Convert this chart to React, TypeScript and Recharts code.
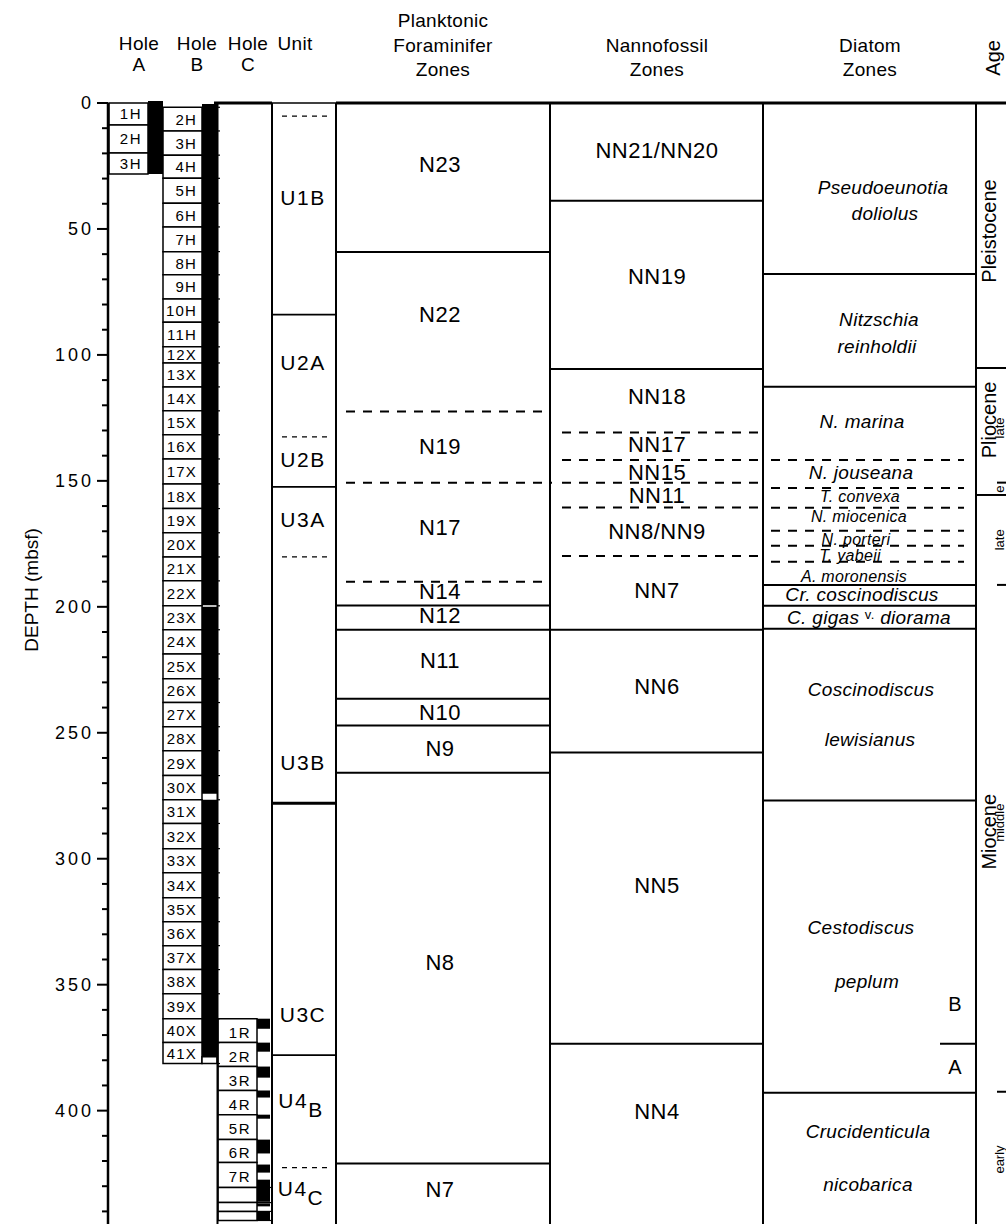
import React from 'react';
import { ComposedChart, XAxis, YAxis, ReferenceArea, ReferenceLine, ReferenceDot } from 'recharts';

const FONT = "'Liberation Sans', Arial, Helvetica, sans-serif";

// ---------------- DATA (depths in mbsf) ----------------
const depthTicks = [0, 10, 20, 30, 40, 50, 60, 70, 80, 90, 100, 110, 120, 130, 140, 150, 160, 170, 180, 190, 200, 210, 220, 230, 240, 250, 260, 270, 280, 290, 300, 310, 320, 330, 340, 350, 360, 370, 380, 390, 400, 410, 420, 430, 440];

const holeACores = ['1H', '2H', '3H'];
const holeABounds = [0, 8.7, 19.8, 28.2];
const holeARecTop = [-0.8];
const holeARecBottom = [28.2];

const holeBCores = ['2H', '3H', '4H', '5H', '6H', '7H', '8H', '9H', '10H', '11H', '12X', '13X', '14X', '15X', '16X', '17X', '18X', '19X', '20X', '21X', '22X', '23X', '24X', '25X', '26X', '27X', '28X', '29X', '30X', '31X', '32X', '33X', '34X', '35X', '36X', '37X', '38X', '39X', '40X', '41X'];
const holeBBounds = [1.7, 11.1, 20.7, 29.9, 39.8, 49.2, 59.0, 68.2, 77.8, 87.0, 96.8, 103.2, 112.7, 122.2, 131.7, 141.3, 151.2, 161.0, 170.6, 180.2, 189.7, 199.6, 209.1, 218.7, 228.6, 238.0, 247.6, 257.1, 267.0, 276.6, 286.0, 296.0, 305.6, 315.5, 325.0, 334.5, 344.0, 353.6, 363.5, 373.0, 381.3];
const holeBRecTop = [0.4, 200.0, 276.6];
const holeBRecBottom = [199.4, 274.2, 378.6];

const holeCCores = ['1R', '2R', '3R', '4R', '5R', '6R', '7R', '', '', ''];
const holeCBounds = [363.5, 373.0, 382.5, 392.0, 401.6, 411.5, 420.6, 430.5, 436.5, 440.0, 443.6];
const holeCRecTop = [363.5, 373.0, 382.5, 392.0, 401.6, 411.5, 421.4, 427.4, 436.8, 440.0];
const holeCRecBottom = [367.5, 376.6, 386.9, 394.8, 403.2, 417.0, 424.6, 436.2, 438.0, 443.6];

const unitNames = ['U1B', 'U2A', 'U2B', 'U3A', 'U3B', 'U3C', 'U4', 'U4'];
const unitSubs = ['', '', '', '', '', '', 'B', 'C'];
const unitLabelDepths = [37.7, 103.2, 141.7, 165.5, 261.9, 362.0, 395.6, 430.6];
const unitBoundaries = [5.2, 84.0, 132.5, 152.4, 180.2, 278.0, 378.0, 422.6];
const unitBoundaryDashed = [true, false, true, false, true, false, false, true];

const foramZones = ['N23', 'N22', 'N19', 'N17', 'N14', 'N12', 'N11', 'N10', 'N9', 'N8', 'N7'];
const foramLabelDepths = [24.6, 84.1, 136.5, 168.7, 194.0, 203.6, 221.4, 242.0, 256.3, 341.3, 431.3];
const foramBoundaries = [59.1, 122.5, 150.7, 190.0, 199.5, 209.1, 236.5, 247.1, 265.9, 421.0];
const foramBoundaryDashed = [false, true, true, true, false, false, false, false, false, false];

const nannoZones = ['NN21/NN20', 'NN19', 'NN18', 'NN17', 'NN15', 'NN11', 'NN8/NN9', 'NN7', 'NN6', 'NN5', 'NN4'];
const nannoLabelDepths = [18.7, 68.7, 116.7, 135.7, 146.8, 156.0, 170.2, 193.7, 231.7, 310.7, 400.4];
const nannoBoundaries = [38.8, 105.6, 130.8, 141.7, 150.7, 160.6, 179.8, 209.1, 257.8, 373.4];
const nannoBoundaryDashed = [false, false, true, true, true, true, true, false, false, false];

const diatomLabels = ['Pseudoeunotia', 'doliolus', 'Nitzschia', 'reinholdii', 'N. marina', 'N. jouseana', 'T. convexa', 'N. miocenica', 'N. porteri', 'T. yabeii', 'A. moronensis', 'Cr. coscinodiscus', 'C. gigas|v.|diorama', 'Coscinodiscus', 'lewisianus', 'Cestodiscus', 'peplum', 'Crucidenticula', 'nicobarica'];
const diatomLabelDepths = [33.7, 43.7, 86.1, 96.8, 126.6, 146.8, 156.3, 164.3, 173.4, 179.8, 188.1, 195.2, 204.0, 232.9, 252.8, 327.4, 348.8, 408.3, 429.4];
const diatomBoundaries = [67.9, 112.6, 141.7, 152.8, 160.7, 169.8, 175.8, 182.1, 191.3, 199.6, 208.7, 276.9, 392.9];
const diatomBoundaryDashed = [false, false, true, true, true, true, true, true, false, false, false, false, false];
const diatomSubzones = ['B', 'A'];
const diatomSubzoneDepths = [357.5, 382.5];
const diatomSubzoneBoundary = 373.4;

const epochNames = ['Pleistocene', 'Pliocene', 'Miocene'];
const epochLabelDepths = [50.8, 125.8, 289.3];
const epochBoundaries = [105.2, 155.6];
const subEpochNames = ['late', 'e', 'late', 'middle', 'early'];
const subEpochLabelDepths = [129.0, 153.3, 173.4, 285.7, 419.4];
const subEpochTicks = [150.7, 191.3, 392.5];

const headerTexts = ['Hole', 'A', 'Hole', 'B', 'Hole', 'C', 'Unit', 'Planktonic', 'Foraminifer', 'Zones', 'Nannofossil', 'Zones', 'Diatom', 'Zones'];

// ---------------- LAYOUT (x in column units; 0 = depth axis) ----------------
const X = {
  aBox: [1, 40], aBar: [40, 55],
  bBox: [55, 94], bBar: [94, 109], bTick: [109, 112],
  cLine: 109.5, cBox: [110, 149], cBar: [149, 162],
  unit: [164, 228], foram: [228, 442], nanno: [442, 655], diatom: [655, 868], age: [868, 898],
};
const headerX = [31, 31, 89, 89, 140, 140, 187, 335, 335, 335, 549, 549, 762, 762];
const headerY = [-23.8, -15.1, -23.8, -15.1, -23.8, -15.1, -23.8, -32.9, -23.0, -13.1, -23.0, -13.1, -23.0, -13.1];
const diatomLabelX = [775, 777, 771, 769, 754, 753, 752, 751, 748, 742, 746, 754, 761, 763, 762, 753, 759, 760, 760];
const diatomSmall = [false, false, false, false, false, false, true, true, true, true, true, false, false, false, false, false, false, false, false];

const W = 1006;
const H = 1224;
const TOP = 103;
const LEFT = 108;

// ---------------- helpers ----------------
const T = (key: string, x: number, y: number, content: React.ReactNode, style: any = {}, rotate = false) => (
  <ReferenceDot
    key={key}
    x={x}
    y={y}
    r={0}
    fill="none"
    stroke="none"
    ifOverflow="visible"
    isAnimationActive={false}
    shape={(p: any) => (
      <text
        x={p.cx}
        y={p.cy}
        textAnchor={style.anchor || 'middle'}
        dominantBaseline="central"
        fontFamily={FONT}
        fontSize={style.size || 20}
        fontStyle={style.italic ? 'italic' : 'normal'}
        letterSpacing={style.ls || 0}
        fill="#000"
        transform={rotate ? `rotate(-90 ${p.cx} ${p.cy})` : undefined}
      >
        {content}
      </text>
    )}
  />
);

const Box = (key: string, x1: number, x2: number, y1: number, y2: number, fill: string, stroke = 'none', sw = 1.5) => (
  <ReferenceArea key={key} x1={x1} x2={x2} y1={y1} y2={y2} fill={fill} fillOpacity={1} stroke={stroke} strokeWidth={sw} ifOverflow="visible" />
);

const Seg = (key: string, x1: number, x2: number, y1: number, y2: number, sw = 2, dash?: string) => (
  <ReferenceLine key={key} segment={[{ x: x1, y: y1 }, { x: x2, y: y2 }]} stroke="#000" strokeWidth={sw} strokeDasharray={dash} ifOverflow="visible" />
);

const DepthTick = (props: any) => {
  const { x, y, payload } = props;
  const v = payload.value;
  const major = v % 50 === 0;
  return (
    <g>
      <line x1={x - (major ? 11 : 6)} x2={x} y1={y} y2={y} stroke="#000" strokeWidth={2} />
      {major && (
        <text x={x - 14} y={y} textAnchor="end" dominantBaseline="central" fontFamily={FONT} fontSize={18} letterSpacing={3} fill="#000">
          {v}
        </text>
      )}
    </g>
  );
};

const DASH = '9 8';
const BOTTOM = 445;

export default function App() {
  const areas: React.ReactNode[] = [];
  const lines: React.ReactNode[] = [];
  const texts: React.ReactNode[] = [];

  // Hole A
  holeACores.forEach((c, i) => {
    areas.push(Box(`a${i}`, X.aBox[0], X.aBox[1], holeABounds[i], holeABounds[i + 1], '#fff', '#000', 1.5));
    texts.push(T(`at${i}`, X.aBox[1] - 6, (holeABounds[i] + holeABounds[i + 1]) / 2, c, { size: 15, anchor: 'end', ls: 1.5 }));
  });
  holeARecTop.forEach((t, i) => areas.push(Box(`ar${i}`, X.aBar[0], X.aBar[1], t, holeARecBottom[i], '#000')));

  // Hole B
  holeBCores.forEach((c, i) => {
    areas.push(Box(`b${i}`, X.bBox[0], X.bBox[1], holeBBounds[i], holeBBounds[i + 1], '#fff', '#000', 1.5));
    texts.push(T(`bt${i}`, X.bBox[1] - 5, (holeBBounds[i] + holeBBounds[i + 1]) / 2, c, { size: 15, anchor: 'end', ls: 1.2 }));
  });
  areas.push(Box('bbarbg', X.bBar[0], X.bBar[1], holeBBounds[holeBBounds.length - 1] - 2.7, holeBBounds[holeBBounds.length - 1], '#fff', '#000', 1.5));
  holeBRecTop.forEach((t, i) => areas.push(Box(`br${i}`, X.bBar[0], X.bBar[1], t, holeBRecBottom[i], '#000')));
  holeBBounds.forEach((d, i) => lines.push(Seg(`btk${i}`, X.bTick[0], X.bTick[1], d, d, 1.2)));

  // Hole C
  holeCCores.forEach((c, i) => {
    areas.push(Box(`c${i}`, X.cBox[0], X.cBox[1], holeCBounds[i], holeCBounds[i + 1], '#fff', '#000', 1.5));
    if (c) texts.push(T(`ct${i}`, X.cBox[1] - 6, (holeCBounds[i] + holeCBounds[i + 1]) / 2 + 0.6, c, { size: 15, anchor: 'end', ls: 1.5 }));
  });
  holeCBounds.slice(7).forEach((d, i) => lines.push(Seg(`cl${i}`, X.cBox[1], X.unit[0], d, d, 1.2)));
  holeCRecTop.forEach((t, i) => areas.push(Box(`cr${i}`, X.cBar[0], X.cBar[1], t, holeCRecBottom[i], '#000')));

  // column frame
  lines.push(Seg('top1', X.cBox[0] - 4, X.unit[0], 0, 0, 3));
  lines.push(Seg('top2', X.unit[0], X.unit[1], 0, 0, 1.5));
  lines.push(Seg('top3', X.unit[1], X.age[1], 0, 0, 3));
  [X.cLine, X.unit[0], X.unit[1], X.foram[1], X.nanno[1], X.diatom[1]].forEach((x, i) =>
    lines.push(Seg(`v${i}`, x, x, 0, BOTTOM, 2))
  );

  // Units
  unitBoundaries.forEach((d, i) => {
    if (unitBoundaryDashed[i]) lines.push(Seg(`ub${i}`, X.unit[0] + 10, X.unit[1] - 4, d, d, 1.2, '5 5'));
    else lines.push(Seg(`ub${i}`, X.unit[0], X.unit[1], d, d, i === 5 ? 3 : 1.8));
  });
  unitNames.forEach((n, i) => {
    const content = unitSubs[i] ? (
      <>
        <tspan>{n}</tspan>
        <tspan dy={9}>{unitSubs[i]}</tspan>
      </>
    ) : n;
    texts.push(T(`ut${i}`, unitSubs[i] ? 193 : 195, unitLabelDepths[i], content, { size: 21, ls: 1.5 }));
  });

  // Foram
  foramBoundaries.forEach((d, i) => {
    if (foramBoundaryDashed[i]) lines.push(Seg(`fb${i}`, X.foram[0] + 10, X.foram[1] + (i === 2 ? 2 : -2), d, d, 2, DASH));
    else lines.push(Seg(`fb${i}`, X.foram[0], X.foram[1], d, d, 2));
  });
  foramZones.forEach((z, i) => texts.push(T(`ft${i}`, 332, foramLabelDepths[i], z, { size: 22, ls: 0.5 })));

  // Nanno
  nannoBoundaries.forEach((d, i) => {
    if (nannoBoundaryDashed[i]) lines.push(Seg(`nb${i}`, X.nanno[0] + 12, X.nanno[1], d, d, 2, DASH));
    else lines.push(Seg(`nb${i}`, X.nanno[0], X.nanno[1], d, d, 2));
  });
  nannoZones.forEach((z, i) => texts.push(T(`nt${i}`, 549, nannoLabelDepths[i], z, { size: 22, ls: 0.5 })));

  // Diatom
  diatomBoundaries.forEach((d, i) => {
    if (diatomBoundaryDashed[i]) lines.push(Seg(`db${i}`, X.diatom[0] + 8, X.diatom[1] - 12, d, d, 2, DASH));
    else lines.push(Seg(`db${i}`, X.diatom[0], X.diatom[1], d, d, 2));
  });
  lines.push(Seg('dsub', X.diatom[1] - 36, X.diatom[1], diatomSubzoneBoundary, diatomSubzoneBoundary, 2));
  diatomLabels.forEach((l, i) => {
    let content: React.ReactNode = l;
    if (l.includes('|')) {
      const [a, b, c] = l.split('|');
      content = (
        <>
          <tspan>{a} </tspan>
          <tspan fontSize={13} fontStyle="normal" dy={-3}>{b}</tspan>
          <tspan dy={3}> {c}</tspan>
        </>
      );
    }
    texts.push(T(`dt${i}`, diatomLabelX[i], diatomLabelDepths[i], content, { size: diatomSmall[i] ? 16 : 19, italic: true, ls: 0.3 }));
  });
  diatomSubzones.forEach((s, i) => texts.push(T(`ds${i}`, 847, diatomSubzoneDepths[i], s, { size: 20 })));

  // Age
  epochBoundaries.forEach((d, i) => lines.push(Seg(`eb${i}`, X.age[0], X.age[1], d, d, 2)));
  subEpochTicks.forEach((d, i) => lines.push(Seg(`se${i}`, X.age[0] + 21, X.age[1], d, d, 2)));
  epochNames.forEach((e, i) => texts.push(T(`et${i}`, 881, epochLabelDepths[i], e, { size: 20 }, true)));
  subEpochNames.forEach((e, i) => texts.push(T(`st${i}`, 892, subEpochLabelDepths[i], e, { size: 13 }, true)));

  // Headers
  headerTexts.forEach((h, i) => texts.push(T(`h${i}`, headerX[i], headerY[i], h, { size: 19, ls: 0.3 })));
  texts.push(T('hage', 885, -17.9, 'Age', { size: 20 }, true));
  texts.push(T('ylab', -76, 193.3, 'DEPTH (mbsf)', { size: 19 }, true));

  return (
    <div style={{ position: 'absolute', left: 0, top: 0, background: '#fff' }}>
      <ComposedChart width={W} height={H} margin={{ top: TOP, right: 0, bottom: 0, left: 0 }}>
        <XAxis type="number" dataKey="x" domain={[0, W - LEFT]} hide allowDataOverflow />
        <YAxis
          type="number"
          domain={[0, BOTTOM]}
          reversed
          allowDataOverflow
          width={LEFT}
          ticks={depthTicks}
          interval={0}
          tickSize={0}
          tickMargin={0}
          tickLine={false}
          axisLine={{ stroke: '#000', strokeWidth: 2.5 }}
          tick={<DepthTick />}
        />
        {areas}
        {lines}
        {texts}
      </ComposedChart>
    </div>
  );
}
